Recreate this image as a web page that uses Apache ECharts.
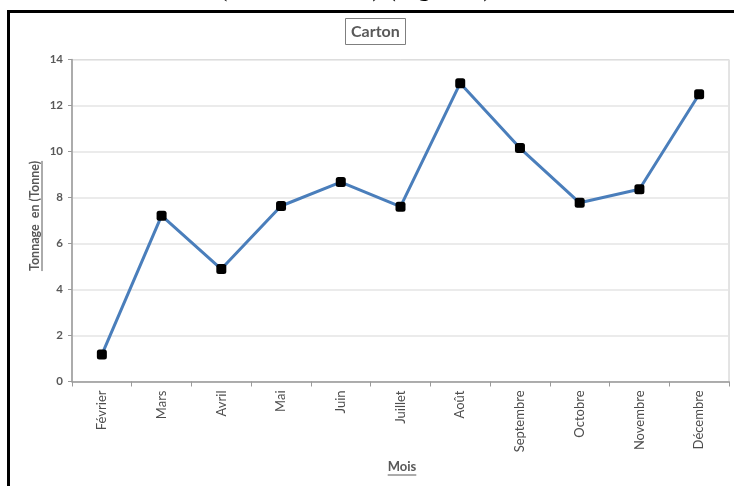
<!DOCTYPE html>
<html>
<head>
<meta charset="utf-8">
<script src="https://cdn.jsdelivr.net/npm/echarts@6/dist/echarts.min.js"></script>
<style>
  html, body { margin: 0; padding: 0; background: #fff; }
  #chart { width: 734px; height: 486px; }
</style>
</head>
<body>
<div id="chart"></div>
<script>
// Monthly cardboard tonnage
const months = ['Février', 'Mars', 'Avril', 'Mai', 'Juin', 'Juillet', 'Août', 'Septembre', 'Octobre', 'Novembre', 'Décembre'];
const tonnage = [1.17, 7.21, 4.89, 7.63, 8.67, 7.6, 12.97, 10.15, 7.77, 8.36, 12.49];
const yTicks = { min: 0, max: 14, step: 2 };

const chartTitle = 'Carton';
const yName = 'Tonnage  en (Tonne)';
const xName = 'Mois';
const caption = 'de Février à Décembre (Kt, en Tonnes) (Figure 3)';

const FONT = 'Lato, "Open Sans", sans-serif';
const GREY_TEXT = '#595959';

function textWidth(str, font) {
  const ctx = document.createElement('canvas').getContext('2d');
  ctx.font = font;
  return ctx.measureText(str).width;
}

const yNameFont = 'bold 12.5px ' + FONT;
const xNameFont = 'bold 13px ' + FONT;
const yNameW = textWidth(yName, yNameFont);
const xNameW = textWidth(xName, xNameFont);

const chart = echarts.init(document.getElementById('chart'), null, { renderer: 'canvas' });

chart.setOption({
  backgroundColor: '#ffffff',
  animation: false,
  title: {
    text: chartTitle,
    left: 345,
    top: 18,
    padding: [5, 6, 5, 6],
    borderColor: '#7f7f7f',
    borderWidth: 1,
    textStyle: { fontFamily: FONT, fontWeight: 'bold', fontSize: 16, color: GREY_TEXT, lineHeight: 17 }
  },
  grid: {
    left: 72, right: 5, top: 59.5, bottom: 104.5,
    show: true, borderColor: '#c8c8c8', borderWidth: 1
  },
  xAxis: {
    type: 'category',
    data: months,
    boundaryGap: true,
    axisLine: { lineStyle: { color: '#9a9a9a', width: 1.5 } },
    axisTick: { show: true, interval: 0, length: 5, lineStyle: { color: '#9a9a9a' } },
    axisLabel: {
      interval: 0, rotate: 90, margin: 9,
      fontFamily: FONT, fontSize: 13, color: '#4d4d4d'
    }
  },
  yAxis: {
    type: 'value',
    min: yTicks.min, max: yTicks.max, interval: yTicks.step,
    axisLine: { show: true, lineStyle: { color: '#9a9a9a', width: 1.5 } },
    axisTick: { show: true, length: 4, lineStyle: { color: '#9a9a9a' } },
    splitLine: { lineStyle: { color: '#e4e4e4', width: 1.5 } },
    axisLabel: { margin: 9, fontFamily: FONT, fontWeight: 'bold', fontSize: 11.5, color: GREY_TEXT }
  },
  series: [{
    type: 'line',
    data: tonnage,
    symbol: 'roundRect',
    symbolSize: 10,
    itemStyle: { color: '#000000' },
    lineStyle: { color: '#4a7ebb', width: 3 },
    z: 3
  }],
  graphic: [
    // outer frame of the figure
    {
      type: 'rect',
      shape: { x: 8.5, y: 11.5, width: 900, height: 700 },
      style: { fill: 'none', stroke: '#000', lineWidth: 3 },
      silent: true
    },
    // caption line above the frame
    {
      type: 'text',
      x: 492, y: 2.5,
      style: {
        text: caption,
        font: '26px "Liberation Serif", "DejaVu Serif", serif',
        fill: '#000',
        textAlign: 'right',
        textVerticalAlign: 'bottom'
      },
      silent: true
    },
    // y-axis name, underlined
    {
      type: 'group',
      x: 35, y: 216,
      rotation: Math.PI / 2,
      children: [
        {
          type: 'text',
          style: { text: yName, font: yNameFont, fill: GREY_TEXT, textAlign: 'center', textVerticalAlign: 'middle' }
        },
        {
          type: 'line',
          shape: { x1: -yNameW / 2, y1: 7, x2: yNameW / 2, y2: 7 },
          style: { stroke: GREY_TEXT, lineWidth: 1 }
        }
      ]
    },
    // x-axis name, underlined
    {
      type: 'group',
      x: 402, y: 467,
      children: [
        {
          type: 'text',
          style: { text: xName, font: xNameFont, fill: GREY_TEXT, textAlign: 'center', textVerticalAlign: 'middle' }
        },
        {
          type: 'line',
          shape: { x1: -xNameW / 2, y1: 8, x2: xNameW / 2, y2: 8 },
          style: { stroke: GREY_TEXT, lineWidth: 1 }
        }
      ]
    }
  ]
});
</script>
</body>
</html>
